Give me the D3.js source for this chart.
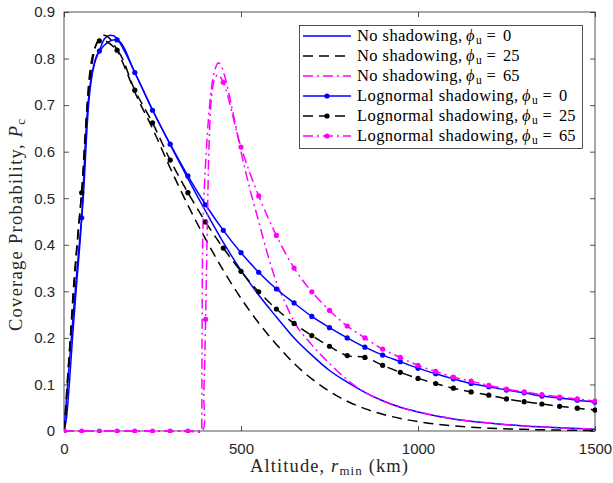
<!DOCTYPE html>
<html><head><meta charset="utf-8">
<script src="https://cdn.jsdelivr.net/npm/d3@7"></script>
<style>body{margin:0;background:#fff}svg{display:block}</style>
</head><body>
<svg id="c" width="613" height="483"></svg>
<script>
// ---------- data ----------
const xTicks = [0, 500, 1000, 1500];
const yTicks = [0, 0.1, 0.2, 0.3, 0.4, 0.5, 0.6, 0.7, 0.8, 0.9];

// No shadowing, phi_u = 0
const ns0X = [0, 7.5, 15, 25, 34, 50, 64, 73, 88, 100, 115, 130, 140, 150, 175, 200, 250, 300, 350, 400, 450, 500, 550, 600, 650, 700, 750, 800, 850, 900, 950, 1000, 1100, 1200, 1300, 1400, 1500];
const ns0Y = [0, 0.031, 0.1, 0.21, 0.3, 0.458, 0.668, 0.74, 0.797, 0.818, 0.843, 0.85, 0.849, 0.842, 0.81, 0.77, 0.69, 0.615, 0.542, 0.472, 0.405, 0.345, 0.292, 0.245, 0.2, 0.163, 0.13, 0.105, 0.083, 0.065, 0.051, 0.041, 0.026, 0.017, 0.011, 0.007, 0.004];

// No shadowing, phi_u = 25
const ns25X = [0, 5, 9.5, 18, 26, 40, 50, 60, 75, 90, 100, 113, 125, 150, 175, 200, 250, 300, 350, 400, 450, 500, 550, 600, 650, 700, 750, 800, 850, 900, 950, 1000, 1100, 1200, 1300, 1400, 1500];
const ns25Y = [0, 0.03, 0.1, 0.2, 0.3, 0.43, 0.515, 0.64, 0.765, 0.828, 0.843, 0.85, 0.846, 0.818, 0.775, 0.728, 0.65, 0.565, 0.485, 0.412, 0.345, 0.285, 0.232, 0.186, 0.145, 0.112, 0.085, 0.064, 0.048, 0.036, 0.027, 0.02, 0.011, 0.006, 0.0035, 0.002, 0.001];

// No shadowing, phi_u = 65
const ns65X = [0, 389, 390, 391, 393, 397, 402, 408, 414, 420, 428, 436, 445, 455, 470, 485, 500, 525, 550, 575, 600, 625, 650, 700, 750, 800, 850, 900, 950, 1000, 1100, 1200, 1300, 1400, 1500];
const ns65Y = [0, 0, 0.2, 0.35, 0.45, 0.53, 0.6, 0.67, 0.72, 0.755, 0.78, 0.791, 0.783, 0.76, 0.71, 0.655, 0.6, 0.52, 0.45, 0.38, 0.32, 0.275, 0.235, 0.185, 0.145, 0.11, 0.083, 0.065, 0.051, 0.041, 0.026, 0.017, 0.011, 0.007, 0.004];

// Lognormal shadowing (simulated, every 50 km)
const lnX = [0, 50, 100, 150, 200, 250, 300, 350, 400, 450, 500, 550, 600, 650, 700, 750, 800, 850, 900, 950, 1000, 1050, 1100, 1150, 1200, 1250, 1300, 1350, 1400, 1450, 1500];
const ln0Y = [0, 0.458, 0.816, 0.84, 0.77, 0.689, 0.616, 0.548, 0.486, 0.431, 0.383, 0.341, 0.305, 0.275, 0.246, 0.222, 0.2, 0.18, 0.163, 0.149, 0.135, 0.123, 0.112, 0.102, 0.095, 0.088, 0.082, 0.075, 0.071, 0.066, 0.062];
const ln25Y = [0, 0.512, 0.838, 0.818, 0.732, 0.662, 0.582, 0.512, 0.449, 0.393, 0.343, 0.299, 0.262, 0.231, 0.205, 0.182, 0.162, 0.158, 0.141, 0.126, 0.113, 0.102, 0.092, 0.084, 0.077, 0.069, 0.063, 0.058, 0.053, 0.049, 0.045];
const ln65Y = [0, 0, 0, 0, 0, 0, 0, 0, 0.24, 0.749, 0.61, 0.505, 0.42, 0.35, 0.299, 0.259, 0.2255, 0.2, 0.176, 0.158, 0.141, 0.128, 0.116, 0.107, 0.098, 0.09, 0.084, 0.078, 0.073, 0.069, 0.064];
// extra line points of the phi_u = 65 lognormal curve around its jump
const ln65JumpX = [390, 395, 405, 410, 417, 425, 435];
const ln65JumpY = [0, 0.08, 0.45, 0.62, 0.72, 0.755, 0.765];

const legendPrefix = ["No shadowing, ", "No shadowing, ", "No shadowing, ",
  "Lognormal shadowing, ", "Lognormal shadowing, ", "Lognormal shadowing, "];
const legendPhi = ["0", "25", "65", "0", "25", "65"];

// ---------- chart ----------
const svg = d3.select("#c");
const L = 64, R = 595, T = 12, B = 431;
const x = d3.scaleLinear().domain([0, 1500]).range([L, R]);
const y = d3.scaleLinear().domain([0, 0.9]).range([B, T]);
const axisCol = "#262626";
const BLUE = "#0000ff", BLACK = "#000000", MAG = "#ff00ff";
const DASH = "10,6", DASHDOT = "10,4,2,4";
const serif = "'Liberation Serif', 'Times New Roman', serif";

svg.append("defs").append("clipPath").attr("id", "clip")
  .append("rect").attr("x", L).attr("y", T - 2).attr("width", R - L + 2).attr("height", B - T + 4);

function styleAxis(g, labels) {
  g.select(".domain").remove();
  g.selectAll(".tick line").attr("stroke", axisCol).attr("stroke-width", 0.8);
  if (!labels) g.selectAll(".tick text").remove();
  else g.selectAll(".tick text").attr("fill", axisCol)
      .style("font-family", "'Liberation Sans', Arial, sans-serif").style("font-size", "15px");
}
svg.append("g").attr("transform", `translate(0,${B})`)
  .call(d3.axisBottom(x).tickValues(xTicks).tickFormat(d3.format("d")).tickSizeInner(-5).tickSizeOuter(0).tickPadding(12))
  .call(g => styleAxis(g, true));
svg.append("g").attr("transform", `translate(0,${T})`)
  .call(d3.axisTop(x).tickValues(xTicks).tickSizeInner(-5).tickSizeOuter(0))
  .call(g => styleAxis(g, false));
svg.append("g").attr("transform", `translate(${L},0)`)
  .call(d3.axisLeft(y).tickValues(yTicks).tickFormat(d => d === 0 ? "0" : d3.format(".1f")(d)).tickSizeInner(-5).tickSizeOuter(0).tickPadding(9))
  .call(g => styleAxis(g, true));
svg.append("g").attr("transform", `translate(${R},0)`)
  .call(d3.axisRight(y).tickValues(yTicks).tickSizeInner(-5).tickSizeOuter(0))
  .call(g => styleAxis(g, false));

svg.append("rect").attr("x", L).attr("y", T).attr("width", R - L).attr("height", B - T)
  .attr("fill", "none").attr("stroke", axisCol).attr("stroke-width", 0.8);

const plot = svg.append("g").attr("clip-path", "url(#clip)");
const zip = (xs, ys) => xs.map((v, i) => [v, ys[i]]);
const smooth = d3.line().x(d => x(d[0])).y(d => y(d[1])).curve(d3.curveMonotoneX);
const simLine = d3.line().x(d => x(d[0])).y(d => y(d[1])).curve(d3.curveCatmullRom.alpha(0.5));

function drawLine(pts, gen, col, dash) {
  plot.append("path").attr("d", gen(pts)).attr("fill", "none").attr("stroke", col)
    .attr("stroke-width", 1.5).attr("stroke-dasharray", dash).attr("stroke-linejoin", "round");
}
function drawMarkers(pts, col) {
  plot.append("g").selectAll("circle").data(pts).join("circle")
    .attr("cx", d => x(d[0])).attr("cy", d => y(d[1])).attr("r", 2.6).attr("fill", col);
}

const ln65Line = zip(lnX, ln65Y).concat(zip(ln65JumpX, ln65JumpY)).sort((a, b) => a[0] - b[0]);

// no-shadowing curves
drawLine(zip(ns0X, ns0Y), smooth, BLUE, null);
drawLine(zip(ns25X, ns25Y), smooth, BLACK, DASH);
drawLine(zip(ns65X, ns65Y), smooth, MAG, DASHDOT);
// lognormal
drawLine(zip(lnX, ln0Y), simLine, BLUE, null);
drawMarkers(zip(lnX, ln0Y), BLUE);
drawLine(zip(lnX, ln25Y), simLine, BLACK, DASH);
drawMarkers(zip(lnX, ln25Y), BLACK);
drawLine(ln65Line, simLine, MAG, DASHDOT);
drawMarkers(zip(lnX, ln65Y), MAG);

// ---------- legend ----------
const lg = svg.append("g");
lg.append("rect").attr("x", 299.5).attr("y", 25.5).attr("width", 283).attr("height", 123)
  .attr("fill", "#fff").attr("stroke", axisCol).attr("stroke-width", 0.8);
const legCols = [BLUE, BLACK, MAG, BLUE, BLACK, MAG];
const legDash = [null, DASH, DASHDOT, null, DASH, DASHDOT];
const legFS = 16.5;
legendPrefix.forEach((pre, i) => {
  const yy = 36 + i * 20;
  const base = yy + 5;
  lg.append("line").attr("x1", 303).attr("x2", 351).attr("y1", yy).attr("y2", yy)
    .attr("stroke", legCols[i]).attr("stroke-width", 1.5).attr("stroke-dasharray", legDash[i]);
  if (i >= 3) lg.append("circle").attr("cx", 327).attr("cy", yy).attr("r", 2.6).attr("fill", legCols[i]);
  const x0 = 357;
  const preW = i < 3 ? 109 : 165;
  const tx = (xx, s) => lg.append("text").attr("x", xx).attr("y", base)
    .style("font-family", serif).style("font-size", legFS + "px").attr("fill", "#000").text(s);
  tx(x0, pre.trim()).attr("textLength", preW - 4).attr("lengthAdjust", "spacing");
  const p = x0 + preW;
  tx(p, "ϕ").style("font-style", "italic");
  tx(p + 10, "u").attr("y", base + 3).style("font-size", "11.5px");
  tx(p + 20.5, "=");
  tx(p + 37, legendPhi[i]);
});

// ---------- axis labels ----------
const xl = svg.append("text").attr("x", 329).attr("y", 472).attr("text-anchor", "middle")
  .style("font-family", serif).style("font-size", "18.5px").attr("fill", axisCol)
  .attr("textLength", 158).attr("lengthAdjust", "spacing");
xl.append("tspan").text("Altitude, ");
xl.append("tspan").style("font-style", "italic").text("r");
xl.append("tspan").attr("dy", "0.25em").style("font-size", "0.7em").text("min");
xl.append("tspan").attr("dy", "-0.175em").text(" (km)");

const yl = svg.append("text").attr("transform", `translate(22,${225}) rotate(-90)`)
  .attr("text-anchor", "middle").style("font-family", serif).style("font-size", "18.5px").attr("fill", axisCol)
  .attr("textLength", 212).attr("lengthAdjust", "spacing");
yl.append("tspan").text("Coverage Probability, ");
yl.append("tspan").style("font-style", "italic").text("P");
yl.append("tspan").attr("dy", "0.25em").style("font-size", "0.7em").text("c");
</script>
</body></html>
